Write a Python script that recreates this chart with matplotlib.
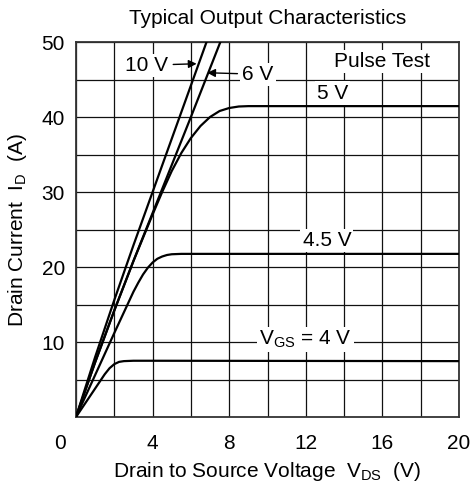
import matplotlib
matplotlib.use("Agg")
import matplotlib.pyplot as plt
from matplotlib.transforms import ScaledTranslation

# ── Data ──────────────────────────────────────────────
vds_4 = [0, 0.5, 1.0, 1.5, 1.75, 2.0, 2.25, 2.5, 3.0, 4.0, 20]
id_4 = [0, 1.9, 3.8, 5.7, 6.5, 7.05, 7.35, 7.45, 7.5, 7.5, 7.45]

vds_45 = [0, 1, 2, 3, 3.25, 3.5, 3.75, 4.0, 4.25, 4.5, 4.75, 5.0, 5.5, 20]
id_45 = [0, 5.6, 11.2, 16.7, 17.9, 19.0, 19.9, 20.6, 21.1, 21.4, 21.6, 21.7, 21.75, 21.75]

vds_5 = [0, 1, 2, 3, 4, 4.5, 5, 5.5, 6, 6.5, 7, 7.5, 8, 8.5, 9, 20]
id_5 = [0, 7.3, 14.2, 20.8, 27.0, 30.0, 32.8, 35.2, 37.2, 38.8, 40.0, 40.8, 41.2, 41.4, 41.45, 41.45]

vds_6 = [0, 1, 2, 3, 4, 5, 6, 7, 7.6]
id_6 = [0, 7.3, 14.2, 20.8, 27.2, 33.6, 40.0, 46.5, 50.4]

vds_10 = [0, 1, 2, 3, 4, 5, 6, 7]
id_10 = [0, 8.0, 15.6, 22.9, 30.0, 37.1, 44.2, 51.3]

x_ticks = [0, 4, 8, 12, 16, 20]
y_ticks = [10, 20, 30, 40, 50]

# ── Style ─────────────────────────────────────────────
plt.rcParams['font.family'] = ['Liberation Sans', 'DejaVu Sans']
plt.rcParams['font.size'] = 15
plt.rcParams['mathtext.fontset'] = 'custom'
plt.rcParams['mathtext.rm'] = 'Liberation Sans'

fig = plt.figure(figsize=(4.73, 4.86), dpi=100)
ax = fig.add_axes([76 / 473, 69 / 486, 383 / 473, 375 / 486])

for v, i in [(vds_4, id_4), (vds_45, id_45), (vds_5, id_5), (vds_6, id_6), (vds_10, id_10)]:
    ax.plot(v, i, color='black', lw=1.6, zorder=3, solid_capstyle='butt')

ax.set_xlim(0, 20)
ax.set_ylim(0, 50)
ax.set_xticks(x_ticks)
ax.set_xticks([2, 6, 10, 14, 18], minor=True)
ax.set_yticks(y_ticks)
ax.set_yticks([5, 15, 25, 35, 45], minor=True)
ax.grid(True, which='both', color='#111111', lw=0.9, zorder=1)
ax.tick_params(which='both', length=0)
ax.tick_params(axis='x', pad=12)
ax.tick_params(axis='y', pad=8)
for s in ax.spines.values():
    s.set_color('#333333')
    s.set_linewidth(1.3)

# shift the "0" label left like the reference
lab0 = ax.get_xticklabels()[0]
lab0.set_transform(lab0.get_transform() + ScaledTranslation(-16 / 100, 0, fig.dpi_scale_trans))

ax.set_xlabel(r'Drain to Source Voltage  $\mathregular{V_{DS}}$  (V)', labelpad=5)
ax.set_ylabel(r'Drain Current  $\mathregular{I_D}$  (A)', labelpad=9)
ax.set_title('Typical Output Characteristics', fontsize=15, pad=13)

# ── Annotations ───────────────────────────────────────
box = dict(facecolor='white', edgecolor='none', pad=1.5)
arrow = dict(arrowstyle='-|>', color='black', lw=1.0, shrinkA=2, shrinkB=0,
             mutation_scale=12)
ax.annotate('10 V', xy=(6.3, 47.1), xytext=(3.7, 46.9), ha='center', va='center',
            bbox=box, arrowprops=arrow, zorder=4)
ax.annotate('6 V', xy=(6.85, 45.9), xytext=(9.5, 45.7), ha='center', va='center',
            bbox=box, arrowprops=arrow, zorder=4)
ax.text(16.0, 47.4, 'Pulse Test', ha='center', va='center', bbox=box, zorder=4)
ax.text(13.4, 43.2, '5 V', ha='center', va='center', bbox=box, zorder=4)
ax.text(13.1, 23.5, '4.5 V', ha='center', va='center', bbox=box, zorder=4)
ax.text(11.96, 10.3, r'$\mathregular{V_{GS}}$ = 4 V', ha='center', va='center',
        bbox=box, zorder=4)

fig.savefig('out.png', dpi=100)
